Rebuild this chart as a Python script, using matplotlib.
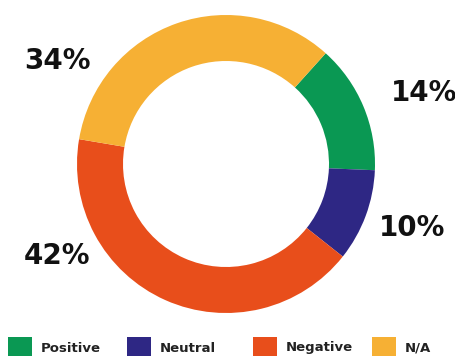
import matplotlib.pyplot as plt
from matplotlib.patches import Rectangle

# sentiment shares (percent)
categories = ['Positive', 'Neutral', 'Negative', 'N/A']
shares = [14, 10, 42, 34]
colors = ['#0a9853', '#2e2784', '#e84e1b', '#f6b034']

fig = plt.figure(figsize=(4.56, 3.56), dpi=100)
ax = fig.add_axes([0, 0, 1, 1])
ax.set_xlim(0, 456)
ax.set_ylim(0, 356)
ax.set_aspect('equal')
ax.axis('off')

# donut ring, drawn clockwise starting at the upper right
wedges, _ = ax.pie(shares, colors=colors, startangle=48, counterclock=False,
                   center=(226, 192), radius=149, frame=True,
                   wedgeprops=dict(width=46, edgecolor='none'))
ax.set_xlim(0, 456)
ax.set_ylim(0, 356)
ax.axis('off')

# percentage labels sit outside the ring
label_pos = [(424, 263), (412, 128), (57, 100), (57, 295)]
for (x, y), val in zip(label_pos, shares):
    ax.text(x, y, f'{val}%', ha='center', va='center', fontsize=20,
            fontweight='bold', color='#111111')

# legend row along the bottom edge
box_x = [8, 127, 253, 372]
for x, name, c in zip(box_x, categories, colors):
    ax.add_patch(Rectangle((x, -4), 24, 23, facecolor=c, edgecolor='none',
                           clip_on=False))
    ax.text(x + 33, 8, name, ha='left', va='center', fontsize=9.5,
            fontweight='bold', color='#222222')

fig.savefig('out.png', dpi=100)
